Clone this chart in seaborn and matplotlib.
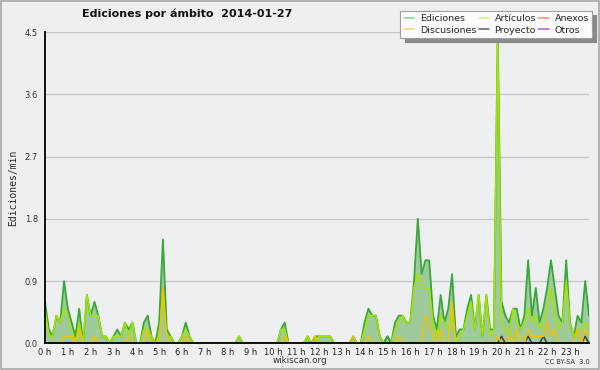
import numpy as np
import pandas as pd
import matplotlib
matplotlib.use("Agg")
import matplotlib.pyplot as plt
from matplotlib.patches import Rectangle
from matplotlib.ticker import MultipleLocator
from matplotlib.lines import Line2D
import seaborn as sns

# ---------------- data (edits/min, 10-minute bins, 2014-01-27) ----------------
minutes = list(range(0, 1440, 10))

ediciones = [
    0.6, 0.2, 0.1, 0.4, 0.3, 0.9,   0.5, 0.3, 0.1, 0.5, 0.0, 0.7,
    0.4, 0.6, 0.4, 0.1, 0.1, 0.0,   0.1, 0.2, 0.1, 0.3, 0.2, 0.3,
    0.0, 0.0, 0.3, 0.4, 0.1, 0.0,   0.3, 1.5, 0.2, 0.1, 0.0, 0.0,
    0.1, 0.3, 0.1, 0.0, 0.0, 0.0,   0.0, 0.0, 0.0, 0.0, 0.0, 0.0,
    0.0, 0.0, 0.0, 0.1, 0.0, 0.0,   0.0, 0.0, 0.0, 0.0, 0.0, 0.0,
    0.0, 0.0, 0.2, 0.3, 0.0, 0.0,   0.0, 0.0, 0.0, 0.1, 0.0, 0.1,
    0.1, 0.1, 0.1, 0.1, 0.0, 0.0,   0.0, 0.0, 0.0, 0.1, 0.0, 0.0,
    0.3, 0.5, 0.4, 0.4, 0.1, 0.0,   0.1, 0.0, 0.3, 0.4, 0.4, 0.3,
    0.3, 0.9, 1.8, 1.0, 1.2, 1.2,   0.4, 0.2, 0.7, 0.3, 0.5, 1.0,
    0.1, 0.2, 0.2, 0.5, 0.7, 0.2,   0.7, 0.1, 0.7, 0.2, 0.2, 4.5,
    0.6, 0.4, 0.3, 0.5, 0.5, 0.2,   0.4, 1.2, 0.4, 0.8, 0.3, 0.5,
    0.8, 1.2, 0.8, 0.4, 0.3, 1.2,   0.3, 0.1, 0.4, 0.3, 0.9, 0.4,
]
articulos = [
    0.5, 0.1, 0.1, 0.4, 0.3, 0.5,   0.4, 0.2, 0.0, 0.3, 0.0, 0.7,
    0.4, 0.4, 0.4, 0.1, 0.1, 0.0,   0.1, 0.1, 0.1, 0.3, 0.1, 0.3,
    0.0, 0.0, 0.2, 0.2, 0.1, 0.0,   0.1, 0.7, 0.1, 0.1, 0.0, 0.0,
    0.1, 0.2, 0.1, 0.0, 0.0, 0.0,   0.0, 0.0, 0.0, 0.0, 0.0, 0.0,
    0.0, 0.0, 0.0, 0.1, 0.0, 0.0,   0.0, 0.0, 0.0, 0.0, 0.0, 0.0,
    0.0, 0.0, 0.2, 0.2, 0.0, 0.0,   0.0, 0.0, 0.0, 0.1, 0.0, 0.0,
    0.1, 0.1, 0.1, 0.1, 0.0, 0.0,   0.0, 0.0, 0.0, 0.0, 0.0, 0.0,
    0.2, 0.4, 0.4, 0.4, 0.1, 0.0,   0.0, 0.0, 0.2, 0.3, 0.4, 0.3,
    0.3, 0.8, 1.0, 0.8, 0.8, 0.8,   0.3, 0.1, 0.4, 0.3, 0.2, 0.4,
    0.0, 0.1, 0.2, 0.4, 0.6, 0.2,   0.7, 0.1, 0.7, 0.1, 0.2, 4.4,
    0.3, 0.2, 0.1, 0.5, 0.3, 0.2,   0.3, 0.5, 0.3, 0.4, 0.2, 0.3,
    0.5, 0.8, 0.4, 0.2, 0.3, 0.9,   0.3, 0.1, 0.2, 0.2, 0.3, 0.2,
]
discusiones = [
    0.0, 0.0, 0.0, 0.0, 0.0, 0.1,   0.1, 0.1, 0.0, 0.2, 0.0, 0.0,
    0.0, 0.1, 0.0, 0.0, 0.0, 0.0,   0.0, 0.0, 0.0, 0.0, 0.1, 0.0,
    0.0, 0.0, 0.0, 0.2, 0.0, 0.0,   0.0, 0.8, 0.1, 0.0, 0.0, 0.0,
    0.0, 0.1, 0.0, 0.0, 0.0, 0.0,   0.0, 0.0, 0.0, 0.0, 0.0, 0.0,
    0.0, 0.0, 0.0, 0.0, 0.0, 0.0,   0.0, 0.0, 0.0, 0.0, 0.0, 0.0,
    0.0, 0.0, 0.0, 0.1, 0.0, 0.0,   0.0, 0.0, 0.0, 0.0, 0.0, 0.1,
    0.0, 0.0, 0.0, 0.0, 0.0, 0.0,   0.0, 0.0, 0.0, 0.1, 0.0, 0.0,
    0.0, 0.1, 0.0, 0.0, 0.0, 0.0,   0.0, 0.0, 0.0, 0.1, 0.0, 0.0,
    0.0, 0.0, 0.0, 0.0, 0.4, 0.3,   0.1, 0.0, 0.2, 0.0, 0.0, 0.6,
    0.0, 0.0, 0.0, 0.0, 0.0, 0.0,   0.0, 0.0, 0.0, 0.0, 0.0, 0.1,
    0.0, 0.0, 0.1, 0.0, 0.2, 0.0,   0.0, 0.2, 0.1, 0.1, 0.1, 0.1,
    0.3, 0.1, 0.2, 0.0, 0.0, 0.0,   0.0, 0.0, 0.2, 0.0, 0.2, 0.1,
]
proyecto = [0.0] * 144
for k in (90, 120, 127, 131, 142):
    proyecto[k] = 0.1
anexos = [0.0] * 144
otros = [0.0] * 144

hour_labels = [f"{h} h" for h in range(24)]
y_ticks = [0.0, 0.9, 1.8, 2.7, 3.6, 4.5]

series_names = ["Ediciones", "Artículos", "Anexos", "Discusiones", "Proyecto", "Otros"]
series_vals = [ediciones, articulos, anexos, discusiones, proyecto, otros]
colors = {
    "Ediciones": "#38a838",
    "Artículos": "#a6e400",
    "Anexos": "#f0804a",
    "Discusiones": "#f2c200",
    "Proyecto": "#3c3c3c",
    "Otros": "#9a4ee0",
}

df = pd.DataFrame({"minute": minutes})
for n, v in zip(series_names, series_vals):
    df[n] = v

# ---------------- figure ----------------
sns.set_style("white")
plt.rcParams["font.family"] = ["DejaVu Sans"]

BG = "#eeeff0"
fig = plt.figure(figsize=(6.0, 3.7), dpi=100, facecolor=BG)
ax = fig.add_axes([0.075, 0.0722, 0.9067, 0.8413])
ax.set_facecolor(BG)

# area under Ediciones
ax.fill_between(df["minute"], 0, df["Ediciones"], color="#9fcb9c", alpha=1.0,
                linewidth=0, zorder=1)

draw_order = ["Otros", "Anexos", "Proyecto", "Ediciones", "Artículos", "Discusiones"]
for n in draw_order:
    lw = 1.3 if n == "Ediciones" else 1.1
    sns.lineplot(data=df, x="minute", y=n, ax=ax, color=colors[n], linewidth=lw,
                 zorder=3, legend=False)

ax.set_xlim(0, minutes[-1])
ax.set_ylim(0, 4.5)

# grid
for yv in y_ticks[1:]:
    ax.axhline(yv, color="#c8c8c8", linewidth=1.0, zorder=0.5)

ax.set_xticks(list(range(0, 1440, 60)))
ax.set_xticklabels(hour_labels)
ax.xaxis.set_minor_locator(MultipleLocator(10))
ax.set_yticks(y_ticks)
ax.set_yticklabels([f"{v:.1f}" for v in y_ticks])
ax.yaxis.set_minor_locator(MultipleLocator(0.225))

ax.tick_params(axis="x", which="major", direction="out", length=3.5, width=1,
               labelsize=6, pad=0, colors="black", labelcolor="#222222")
ax.tick_params(axis="x", which="minor", direction="out", length=3, width=1,
               colors="black")
ax.tick_params(axis="y", which="major", direction="out", length=4, width=1,
               labelsize=6, pad=1, colors="black", labelcolor="#333333")
ax.tick_params(axis="y", which="minor", direction="out", length=2.5, width=1,
               colors="black")

for s in ("top", "right"):
    ax.spines[s].set_visible(False)
for s in ("left", "bottom"):
    ax.spines[s].set_color("black")
    ax.spines[s].set_linewidth(1.3)
    ax.spines[s].set_zorder(5)

ax.set_xlabel("")
ax.set_ylabel("Ediciones/min", family="DejaVu Sans Mono", fontsize=7, labelpad=5)

# legend
leg_order = ["Ediciones", "Discusiones", "Artículos", "Proyecto", "Anexos", "Otros"]
leg_colors_light = {
    "Ediciones": "#7fcf7f", "Discusiones": "#f5d660", "Artículos": "#c8f07a",
    "Proyecto": "#606060", "Anexos": "#f29066", "Otros": "#a862e6",
}
leg_handles = [Line2D([], [], color=leg_colors_light[n], linewidth=1.1) for n in leg_order]
leg = fig.legend(leg_handles, leg_order, ncol=3, loc="upper right",
                 bbox_to_anchor=(0.987, 0.97), bbox_transform=fig.transFigure,
                 fontsize=6.8, frameon=True, fancybox=False,
                 shadow={"color": "#8a8a8a", "alpha": 1, "ox": 3, "oy": -3},
                 handlelength=1.1, handletextpad=0.6, columnspacing=0.25,
                 labelspacing=0.25, borderpad=0.35, borderaxespad=0)
leg.get_frame().set_facecolor("#fcfcfc")
leg.get_frame().set_edgecolor("#a0a0a0")
leg.get_frame().set_linewidth(0.8)
leg.get_frame().set_alpha(1)

# texts
fig.text(0.312, 0.962, "Ediciones por ámbito  2014-01-27", ha="center", va="center",
         fontsize=8, fontweight="bold", color="#111111")
fig.text(0.5, 0.025, "wikiscan.org", ha="center", va="center", fontsize=6.3,
         color="#333333")
fig.text(0.983, 0.022, "CC BY-SA  3.0", ha="right", va="center", fontsize=4.8,
         color="#333333")

# outer border
fig.patches.append(Rectangle((0.001, 0.002), 0.997, 0.995, transform=fig.transFigure,
                             fill=False, edgecolor="#a8a8a8", linewidth=1.2))

fig.savefig("out.png", dpi=100, facecolor=BG)
